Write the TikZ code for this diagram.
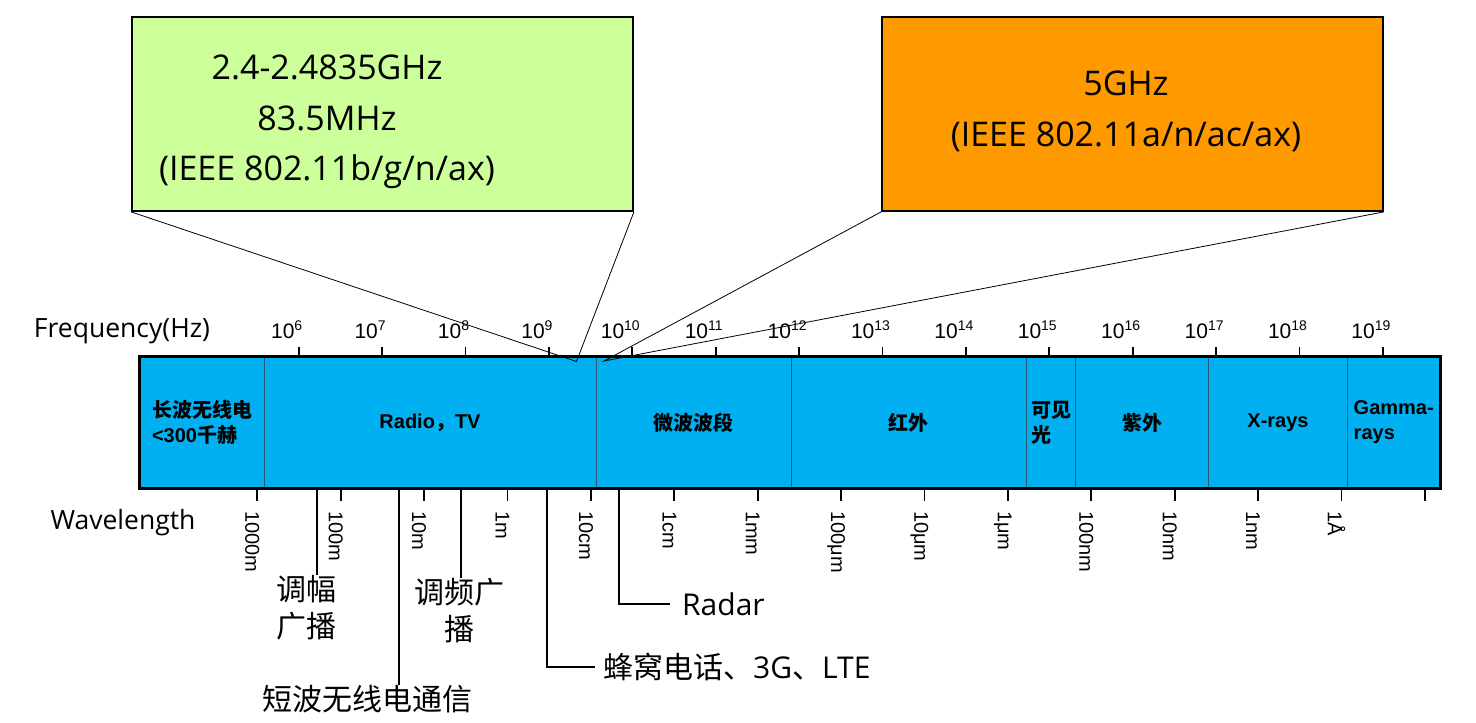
\documentclass[tikz,border=0pt]{standalone}
\usepackage{fontspec}
\setmainfont{Open Sans}
\newfontfamily\cjk{Noto Sans CJK SC}
\newfontfamily\arialf{Liberation Sans}
\usetikzlibrary{positioning}

\definecolor{bandblue}{HTML}{00B0F0}
\definecolor{boxgreen}{HTML}{CCFF99}
\definecolor{boxorange}{HTML}{FF9900}
\definecolor{divline}{HTML}{245A78}

\tikzset{
    band/.style={
           rectangle,
           draw=divline, line width=1pt,
           fill=bandblue,
           minimum height=131pt,
           inner sep=0pt,
           align=left,
           font=\arialf\bfseries\fontsize{20}{25}\selectfont},
    wifibox/.style={
           rectangle,
           draw=black, line width=1.8pt,
           minimum width=501pt,
           minimum height=194pt},
    boxtext/.style={
           align=center,
           font=\fontsize{34}{50.5}\selectfont},
    % Define tick and label styles
    ticks/.style={line width=1.8pt},
    freq/.style={anchor=base, inner sep=0pt,
           font=\arialf\fontsize{21}{21}\selectfont},
    wave/.style={rotate=-90, anchor=west, inner sep=0pt,
           font=\arialf\fontsize{20}{20}\selectfont},
    axisname/.style={font=\fontsize{26.5}{26.5}\selectfont},
    % Define connector styles
    zoomline/.style={line width=0.8pt},
    pointer/.style={line width=1.8pt},
    uselabel/.style={inner sep=0pt, align=center,
           font=\cjk\fontsize{30}{37}\selectfont}
}

\begin{document}
\begin{tikzpicture}[x=1pt, y=-1pt]
	\useasboundingbox (0,0) rectangle (1476,723);

	% spectrum bands
	\node[band, minimum width=124pt] (longwave) at (202,422.5) {{\cjk 长波无线电}\\<300{\cjk 千赫}};
	\node[band, minimum width=332pt, right=-1pt of longwave, align=center] (radio) {Radio{\cjk ，}TV};
	\node[band, minimum width=195pt, right=-1pt of radio] (microwave) {\cjk 微波波段};
	\node[band, minimum width=235.5pt, right=-1pt of microwave] (infrared) {\cjk 红外};
	\node[band, minimum width=49pt, right=-1pt of infrared] (visible) {{\cjk 可见}\\{\cjk 光}};
	\node[band, minimum width=133pt, right=-1pt of visible] (ultraviolet) {\cjk 紫外};
	\node[band, minimum width=139pt, right=-1pt of ultraviolet] (xrays) {X-rays};
	\node[band, minimum width=92.5pt, right=-1pt of xrays] (gamma) {Gamma-\\rays};
	\draw[line width=3pt] (longwave.north west) rectangle (gamma.south east);

	% frequency scale
	\node[axisname] (freqname) at (122,331) {Frequency(Hz)};
	\foreach \e [count=\i from 0] in {6,...,19}
		\draw[ticks] (298.7+83.4*\i,357) -- ++(0,-10)
			node[freq, xshift=-12pt, yshift=9pt] (f\e) {10\raisebox{7.5pt}{\fontsize{14}{14}\selectfont\e}};

	% wavelength scale
	\node[axisname] (wavename) at (123,523) {Wavelength};
	\foreach \w [count=\i from 0, evaluate=\i as \x using 257.3+83.4*\i] in {1000m,100m,10m,1m,10cm,1cm,1mm,100μm,10μm,1μm,100nm,10nm,1nm,1Å,{}}{
		\draw[ticks] (\x,488) -- ++(0,13);
		\node[wave] (w\i) at (\x-5,511) {\w};
	}

	% wifi bands
	\node[wifibox, fill=boxgreen] (wifi24) at (382.5,114) {};
	\node[boxtext] (wifi24txt) at (327,122) {2.4-2.4835GHz\\83.5MHz\\(IEEE 802.11b/g/n/ax)};
	\node[wifibox, fill=boxorange] (wifi5) at (1132.5,114) {};
	\node[boxtext] (wifi5txt) at (1126,111.5) {5GHz\\(IEEE 802.11a/n/ac/ax)};

	\coordinate (p24) at (576.5,361.5);
	\coordinate (p5) at (604,361);
	\draw[zoomline] (wifi24.south west) -- (p24) -- (wifi24.south east);
	\draw[zoomline] (wifi5.south west) -- (p5) -- (wifi5.south east);

	% applications
	\coordinate (amtop) at (317.3,488);
	\coordinate (swtop) at (399,488);
	\coordinate (fmtop) at (460.7,488);
	\coordinate (celltop) at (547.3,488);
	\coordinate (radartop) at (619.3,488);
	\node[uselabel] (am) at (306.5,608) {调幅\\广播};
	\node[uselabel] (sw) at (367,699) {短波无线电通信};
	\node[uselabel] (fm) at (459,611) {调频广\\播};
	\node[uselabel, anchor=west, inner xsep=8pt] (cell) at (595,667) {蜂窝电话、{\rmfamily 3G}、{\rmfamily LTE}};
	\node[uselabel, anchor=west, inner xsep=12pt] (radar) at (670,604) {\rmfamily Radar};
	\draw[pointer] (amtop) -- (amtop |- am.north);
	\draw[pointer] (swtop) -- (swtop |- sw.north);
	\draw[pointer] (fmtop) -- (fmtop |- fm.north);
	\draw[pointer] (celltop) |- (cell.west);
	\draw[pointer] (radartop) |- (radar.west);
\end{tikzpicture}
\end{document}
